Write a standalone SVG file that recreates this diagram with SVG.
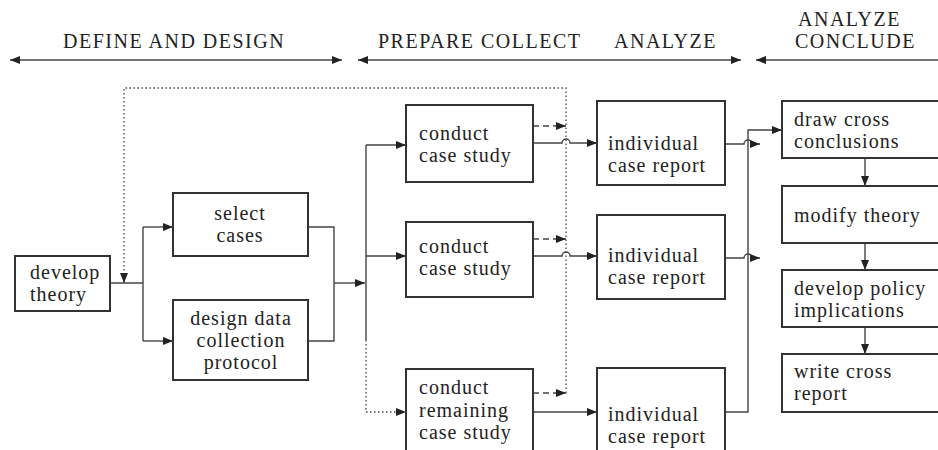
<svg xmlns="http://www.w3.org/2000/svg" width="938" height="450" viewBox="0 0 938 450">
<defs>
<marker id="ah" viewBox="0 0 10 8" refX="10" refY="4" markerWidth="10" markerHeight="8" markerUnits="userSpaceOnUse" orient="auto-start-reverse">
<path d="M0,0 L10,4 L0,8 z" fill="#222"/>
</marker>
</defs>
<style>
text{font-family:"Liberation Serif","Times New Roman",serif;font-size:20px;letter-spacing:1px;fill:#222}
.hd{letter-spacing:1.5px}
.box{fill:#fff;stroke:#333;stroke-width:2}
.c{fill:none;stroke:#444;stroke-width:1.4}
.dot{stroke-dasharray:1.5,2.5;stroke-width:1.3}
.dash{stroke-dasharray:6,4}
.mid{text-anchor:middle}
</style>
<rect width="938" height="450" fill="#fff"/>

<g id="headers">
<text class="hd" x="63" y="48">DEFINE AND DESIGN</text>
<text class="hd" x="378" y="48">PREPARE COLLECT</text>
<text class="hd" x="614" y="48">ANALYZE</text>
<text class="hd" x="798" y="26">ANALYZE</text>
<text class="hd" x="795" y="48">CONCLUDE</text>
</g>

<g id="connectors">
<path class="c" d="M10,60 H342" marker-start="url(#ah)" marker-end="url(#ah)"/>
<path class="c" d="M358,60 H741" marker-start="url(#ah)" marker-end="url(#ah)"/>
<path class="c" d="M756,60 H945" marker-start="url(#ah)"/>

<path class="c" d="M110,283 H143"/>
<path class="c" d="M143,227 V341"/>
<path class="c" d="M143,227 H173" marker-end="url(#ah)"/>
<path class="c" d="M143,341 H173" marker-end="url(#ah)"/>
<path class="c dot" d="M566,393 V88 H124 V283" marker-end="url(#ah)"/>

<path class="c" d="M308,227 H334 V341 H308"/>
<path class="c" d="M334,283 H365" marker-end="url(#ah)"/>
<path class="c" d="M366,145 V340"/>
<path class="c dot" d="M366,340 V412 H406" marker-end="url(#ah)"/>
<path class="c" d="M366,145 H406" marker-end="url(#ah)"/>
<path class="c" d="M366,256 H406" marker-end="url(#ah)"/>

<path class="c dash" d="M533,126 H566" marker-end="url(#ah)"/>
<path class="c dash" d="M533,239 H566" marker-end="url(#ah)"/>
<path class="c dash" d="M533,393 H566" marker-end="url(#ah)"/>

<path class="c" d="M533,143 H562 a4,4 0 0 1 8,0 H597" marker-end="url(#ah)"/>
<path class="c" d="M533,256 H562 a4,4 0 0 1 8,0 H597" marker-end="url(#ah)"/>
<path class="c" d="M533,412 H597" marker-end="url(#ah)"/>

<path class="c" d="M725,412 H748 V130 H782" marker-end="url(#ah)"/>
<path class="c" d="M725,144 H744 a4,4 0 0 1 8,0 L760,144" marker-end="url(#ah)"/>
<path class="c" d="M725,258 H744 a4,4 0 0 1 8,0 L760,258" marker-end="url(#ah)"/>

<path class="c" d="M865,158 V186" marker-end="url(#ah)"/>
<path class="c" d="M865,243 V270" marker-end="url(#ah)"/>
<path class="c" d="M865,327 V354" marker-end="url(#ah)"/>
</g>

<g id="develop-theory">
<rect class="box" x="15" y="256" width="95" height="55"/>
<text x="30" y="279">develop</text>
<text x="30" y="301">theory</text>
</g>
<g id="select-cases">
<rect class="box" x="173" y="193" width="135" height="63"/>
<text class="mid" x="240" y="220">select</text>
<text class="mid" x="240" y="242">cases</text>
</g>
<g id="design-protocol">
<rect class="box" x="173" y="300" width="135" height="80"/>
<text class="mid" x="241" y="325">design data</text>
<text class="mid" x="241" y="347">collection</text>
<text class="mid" x="241" y="369">protocol</text>
</g>
<g id="conduct-1">
<rect class="box" x="406" y="105" width="127" height="77"/>
<text x="419" y="140">conduct</text>
<text x="419" y="162">case study</text>
</g>
<g id="conduct-2">
<rect class="box" x="406" y="222" width="127" height="75"/>
<text x="419" y="253">conduct</text>
<text x="419" y="275">case study</text>
</g>
<g id="conduct-remaining">
<rect class="box" x="406" y="369" width="127" height="90"/>
<text x="419" y="394">conduct</text>
<text x="419" y="417">remaining</text>
<text x="419" y="439">case study</text>
</g>
<g id="report-1">
<rect class="box" x="597" y="101" width="128" height="84"/>
<text x="608" y="150">individual</text>
<text x="608" y="172">case report</text>
</g>
<g id="report-2">
<rect class="box" x="597" y="215" width="128" height="84"/>
<text x="608" y="262">individual</text>
<text x="608" y="284">case report</text>
</g>
<g id="report-3">
<rect class="box" x="597" y="368" width="128" height="90"/>
<text x="608" y="421">individual</text>
<text x="608" y="443">case report</text>
</g>
<g id="draw-conclusions">
<rect class="box" x="782" y="101" width="170" height="57"/>
<text x="794" y="126">draw cross</text>
<text x="794" y="148">conclusions</text>
</g>
<g id="modify-theory">
<rect class="box" x="782" y="186" width="170" height="57"/>
<text x="794" y="222">modify theory</text>
</g>
<g id="policy-implications">
<rect class="box" x="782" y="270" width="170" height="57"/>
<text x="794" y="295">develop policy</text>
<text x="794" y="317">implications</text>
</g>
<g id="write-report">
<rect class="box" x="782" y="354" width="170" height="58"/>
<text x="794" y="378">write cross</text>
<text x="794" y="400">report</text>
</g>
</svg>
